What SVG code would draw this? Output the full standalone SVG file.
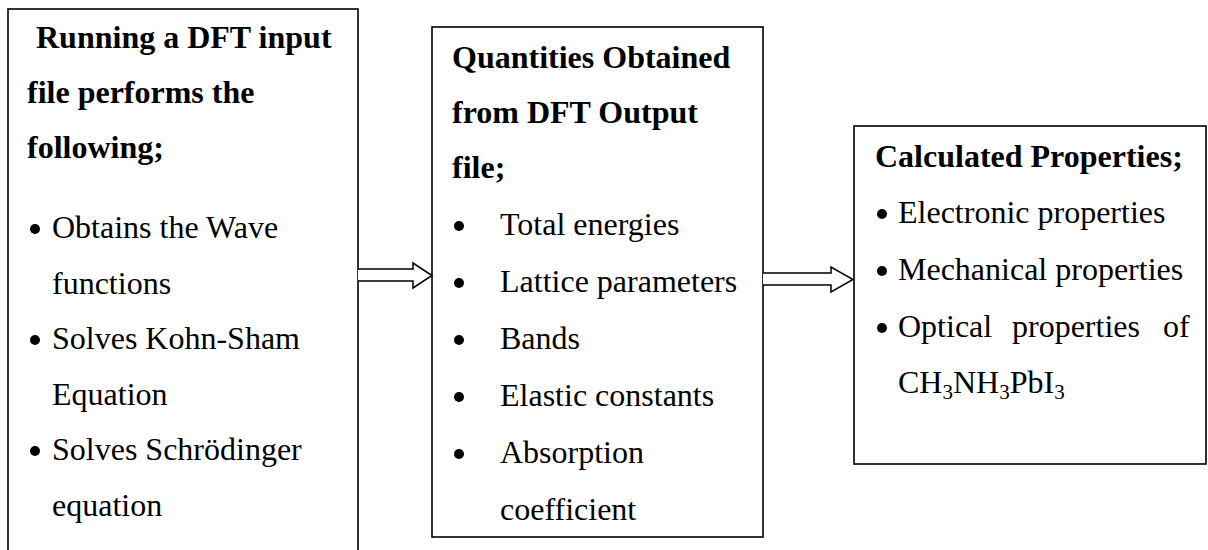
<svg xmlns="http://www.w3.org/2000/svg" width="1208" height="550" viewBox="0 0 1208 550">
  <style>
    .box { fill: #fff; stroke: #000; stroke-width: 1.6; }
    .arrow { fill: #fff; stroke: #000; stroke-width: 1.5; stroke-linejoin: miter; }
    text { font-family: "Liberation Serif", "Times New Roman", serif; font-size: 32px; fill: #000; }
    .h { font-weight: bold; }
    .dot { fill: #000; }
    .sub { font-size: 21px; }
  </style>
  <rect width="1208" height="550" fill="#fff"/>

  <!-- Step 1: running the input file -->
  <g id="node-input">
    <rect class="box" x="8" y="9" width="350" height="560"/>
    <text class="h" x="36" y="48">Running a DFT input</text>
    <text class="h" x="27" y="103">file performs the</text>
    <text class="h" x="27" y="158">following;</text>
    <circle class="dot" cx="35" cy="229" r="5"/>
    <text x="52" y="238">Obtains the Wave</text>
    <text x="52" y="293.5">functions</text>
    <circle class="dot" cx="35" cy="340" r="5"/>
    <text x="52" y="349">Solves Kohn-Sham</text>
    <text x="52" y="404.5">Equation</text>
    <circle class="dot" cx="35" cy="451" r="5"/>
    <text x="52" y="460">Solves Schrödinger</text>
    <text x="52" y="515.5">equation</text>
  </g>

  <!-- Step 2: quantities read from the output file -->
  <g id="node-output">
    <rect class="box" x="432" y="27" width="331" height="510"/>
    <text class="h" x="452" y="68">Quantities Obtained</text>
    <text class="h" x="452" y="123">from DFT Output</text>
    <text class="h" x="452" y="178">file;</text>
    <circle class="dot" cx="459" cy="226" r="5"/>
    <text x="500" y="235">Total energies</text>
    <circle class="dot" cx="459" cy="283" r="5"/>
    <text x="500" y="292">Lattice parameters</text>
    <circle class="dot" cx="459" cy="340" r="5"/>
    <text x="500" y="349">Bands</text>
    <circle class="dot" cx="459" cy="397" r="5"/>
    <text x="500" y="406">Elastic constants</text>
    <circle class="dot" cx="459" cy="454" r="5"/>
    <text x="500" y="463">Absorption</text>
    <text x="500" y="520">coefficient</text>
  </g>

  <!-- Step 3: derived material properties -->
  <g id="node-properties">
    <rect class="box" x="854" y="126" width="352" height="338"/>
    <text class="h" x="875" y="167">Calculated Properties;</text>
    <circle class="dot" cx="882" cy="214" r="5"/>
    <text x="898" y="223">Electronic properties</text>
    <circle class="dot" cx="882" cy="271" r="5"/>
    <text x="898" y="280">Mechanical properties</text>
    <circle class="dot" cx="882" cy="328" r="5"/>
    <text x="898" y="337">Optical</text>
    <text x="1012" y="337">properties</text>
    <text x="1163" y="337">of</text>
    <text x="898" y="393">CH<tspan class="sub" dy="6">3</tspan><tspan dy="-6">NH</tspan><tspan class="sub" dy="6">3</tspan><tspan dy="-6">PbI</tspan><tspan class="sub" dy="6">3</tspan></text>
  </g>

  <!-- Block arrows between the steps -->
  <g id="connectors">
    <path class="arrow" d="M358,269 L413,269 L413,263 L432,275.5 L413,288 L413,281 L358,281"/>
    <path class="arrow" d="M763,273 L831,273 L831,267 L853,279.5 L831,292 L831,285 L763,285"/>
  </g>
</svg>
